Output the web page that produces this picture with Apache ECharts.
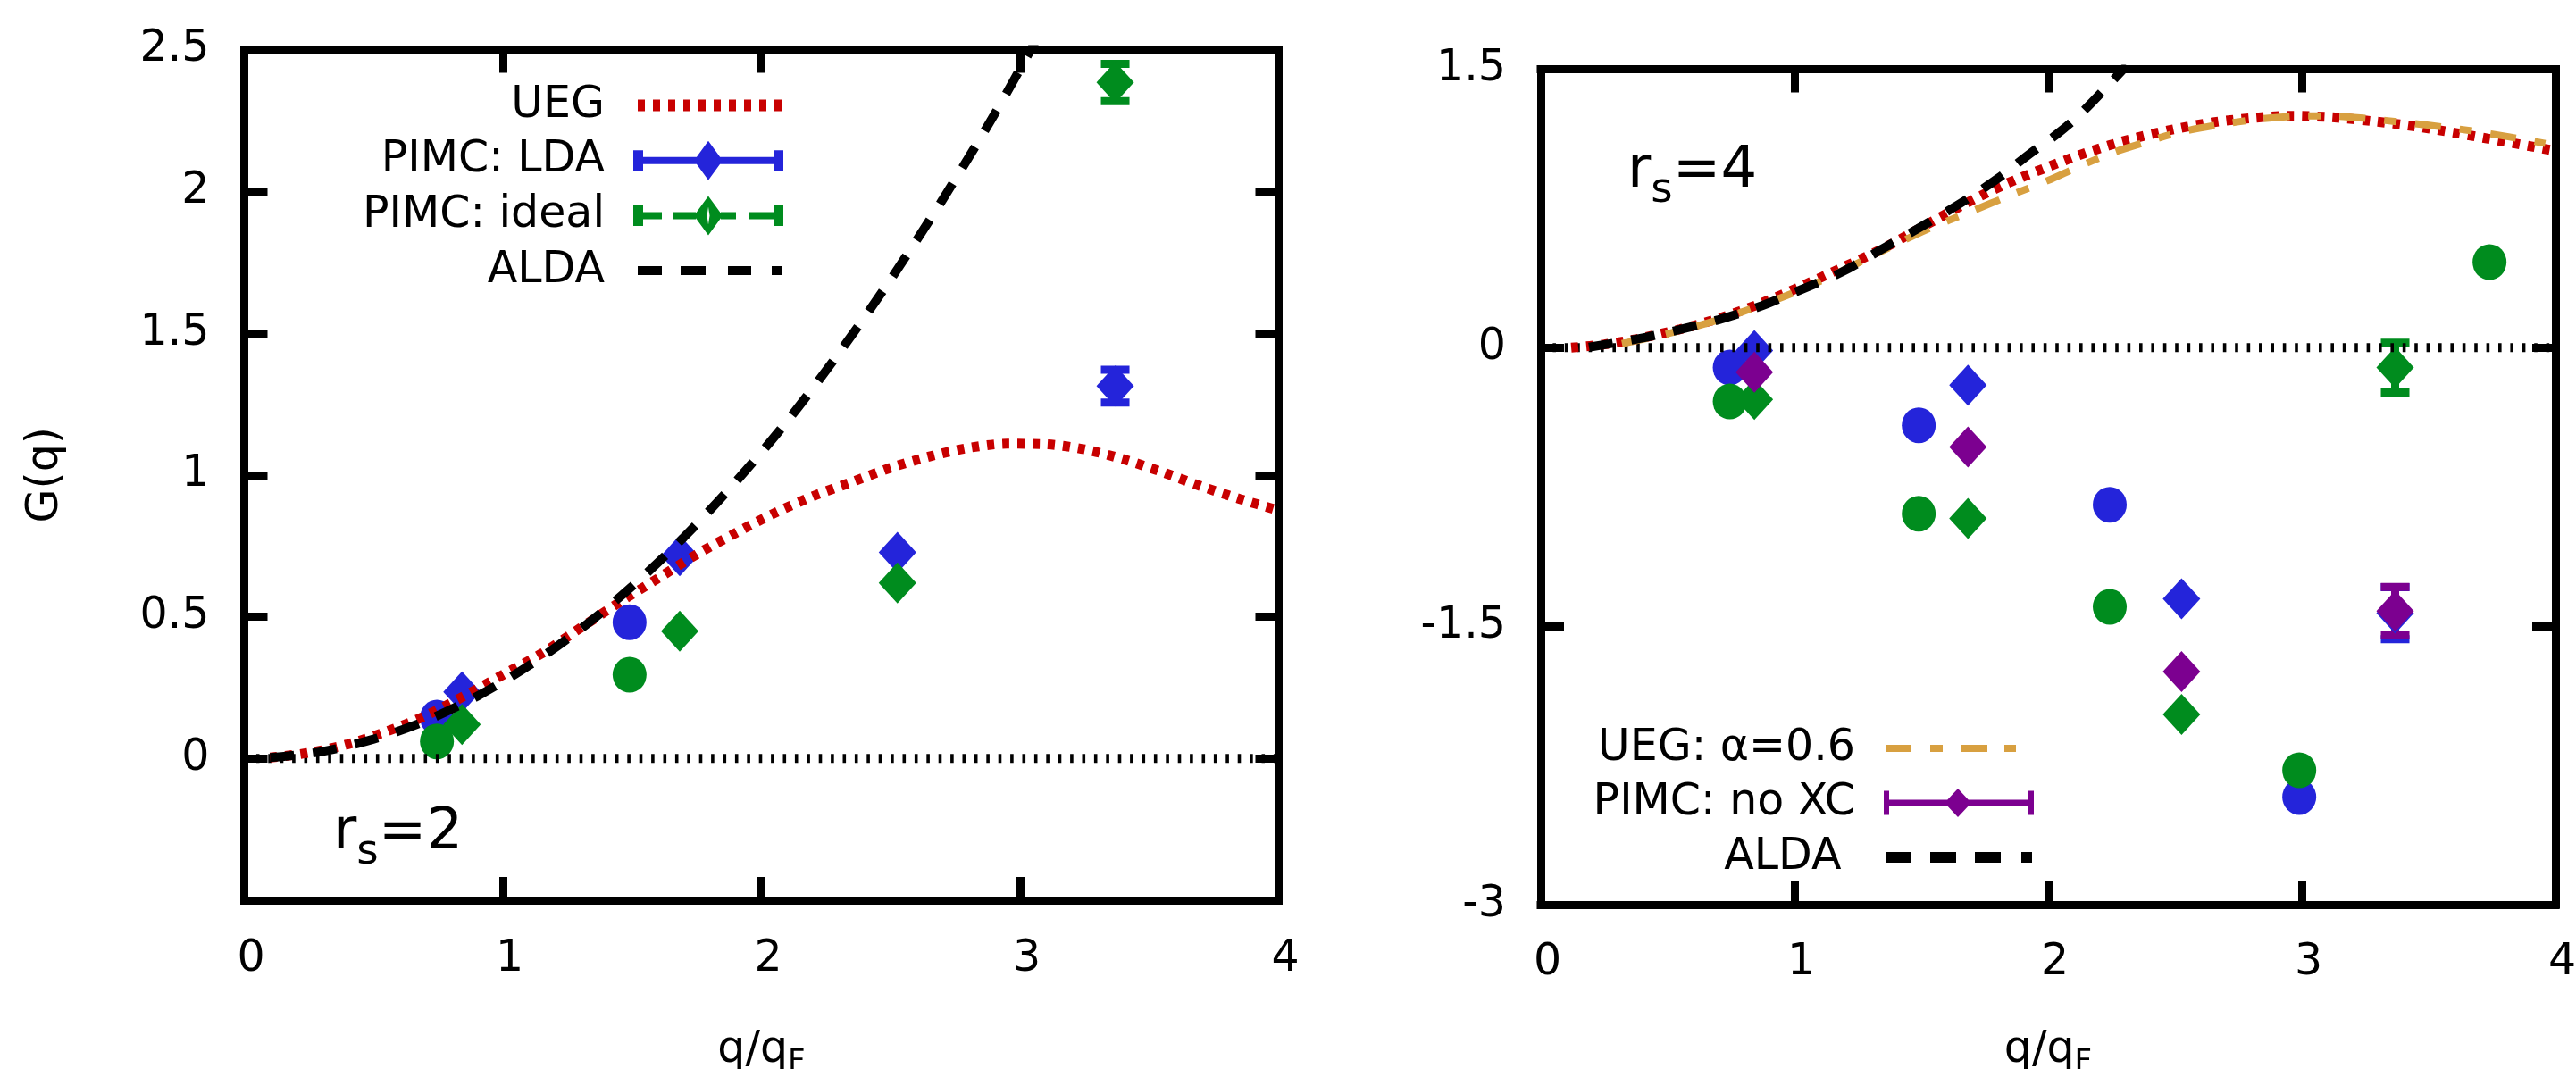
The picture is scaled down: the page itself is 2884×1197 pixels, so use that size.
<!DOCTYPE html>
<html>
<head>
<meta charset="utf-8">
<title>G(q)</title>
<script src="https://cdn.jsdelivr.net/npm/echarts@6.0.0/dist/echarts.min.js"></script>
<style>
html,body{margin:0;padding:0;background:#ffffff;}
#chart{width:2884px;height:1197px;}
</style>
</head>
<body>
<div id="chart"></div>
<script>
// ---------------- data ----------------
const xTickValues = [0, 1, 2, 3, 4];
const yTickValues2 = [0, 0.5, 1, 1.5, 2, 2.5];
const yTickValues4 = [-3, -1.5, 0, 1.5];
const zeroLine = [[0, 0], [4, 0]];

// left panel, r_s = 2
const ueg2 = [[0.1,0.003],[0.25,0.02],[0.4,0.05],[0.55,0.095],[0.7,0.15],[0.85,0.22],[1.0,0.295],[1.15,0.37],[1.3,0.46],[1.45,0.55],[1.6,0.635],[1.75,0.72],[1.9,0.795],[2.05,0.865],[2.2,0.925],[2.35,0.975],[2.5,1.025],[2.65,1.065],[2.8,1.095],[2.95,1.11],[3.1,1.108],[3.25,1.09],[3.4,1.055],[3.55,1.01],[3.7,0.96],[3.85,0.915],[4.0,0.875]];
const alda2 = [[0.1,0.003],[0.3,0.024],[0.5,0.068],[0.7,0.132],[0.9,0.219],[1.1,0.327],[1.3,0.456],[1.5,0.607],[1.7,0.78],[1.9,0.975],[2.1,1.19],[2.3,1.43],[2.5,1.69],[2.7,1.97],[2.9,2.27],[3.06,2.53]];
const ldaCirc2 = [[0.745,0.144],[1.49,0.48]];
const ldaDiam2 = [[0.842,0.235],[1.684,0.715],[2.526,0.727],[3.368,1.313]];
const ldaErr2 = [[3.368,1.313,0.058]];
const idealCirc2 = [[0.745,0.06],[1.49,0.295]];
const idealDiam2 = [[0.842,0.12],[1.684,0.449],[2.526,0.619],[3.368,2.384]];
const idealErr2 = [[3.368,2.384,0.066]];

// right panel, r_s = 4
const ueg4 = [[0.12,0.0],[0.25,0.018],[0.38,0.047],[0.55,0.1],[0.7,0.157],[0.87,0.24],[1.03,0.333],[1.19,0.432],[1.35,0.535],[1.51,0.655],[1.67,0.773],[1.83,0.88],[2.0,0.974],[2.16,1.055],[2.32,1.121],[2.48,1.172],[2.64,1.212],[2.8,1.237],[2.96,1.249],[3.12,1.241],[3.28,1.22],[3.44,1.193],[3.6,1.158],[3.8,1.11],[4.0,1.06]];
const uegA4 = [[0.32,0.022],[0.5,0.075],[0.7,0.15],[0.87,0.23],[1.03,0.315],[1.19,0.415],[1.35,0.524],[1.52,0.635],[1.7,0.736],[1.85,0.82],[2.0,0.901],[2.12,0.975],[2.25,1.048],[2.38,1.105],[2.51,1.158],[2.67,1.2],[2.83,1.231],[3.0,1.248],[3.09,1.249],[3.25,1.235],[3.41,1.212],[3.55,1.19],[3.67,1.168],[3.82,1.135],[3.96,1.1]];
const alda4 = [[0.19,0.003],[0.42,0.058],[0.7,0.15],[0.87,0.225],[1.03,0.315],[1.19,0.41],[1.35,0.535],[1.51,0.66],[1.67,0.791],[1.8,0.91],[1.93,1.047],[2.03,1.145],[2.12,1.249],[2.25,1.432],[2.31,1.52]];
const ldaCirc4 = [[0.745,-0.107],[1.49,-0.418],[2.243,-0.846],[2.99,-2.42]];
const ldaDiam4 = [[0.842,-0.015],[1.684,-0.202],[2.526,-1.352],[3.368,-1.43]];
const ldaErr4 = [[3.368,-1.43,0.14]];
const idealCirc4 = [[0.745,-0.29],[1.49,-0.894],[2.243,-1.396],[2.99,-2.276],[3.74,0.461]];
const idealDiam4 = [[0.842,-0.279],[1.684,-0.92],[2.526,-1.975],[3.368,-0.107]];
const idealErr4 = [[3.368,-0.107,0.134]];
const noxcDiam4 = [[0.842,-0.132],[1.684,-0.535],[2.526,-1.744],[3.368,-1.419]];
const noxcErr4 = [[3.368,-1.419,0.13]];

// ---------------- styling ----------------
const FONT = "'DejaVu Sans', sans-serif";
const COL = {red:'#c80000', blue:'#2424da', green:'#008c1e', purple:'#7c0090', orange:'#d8a040', black:'#000000'};

function rect(x0, x1, y0, y1) { return 'M' + x0 + ' ' + y0 + 'L' + x1 + ' ' + y0 + 'L' + x1 + ' ' + y1 + 'L' + x0 + ' ' + y1 + 'Z'; }
const CORNERS = 'M0 0L0.01 0L0 0.01Z M168 44L167.99 44L168 43.99Z ';
function dashIcon(segs, y0, y1) { return 'path://' + CORNERS + segs.map(s => rect(s[0], s[1], y0, y1)).join(' '); }

const iconUEG = dashIcon([[5,13],[22,30],[39,47],[56,64],[73,81],[90,98],[107,115],[124,132],[141,149],[158,166]], 15.5, 28.5);
const iconALDA = dashIcon([[5,32],[53,81],[106,132],[155,166]], 17, 27);
const iconLDA = 'path://' + CORNERS + rect(0,168,18,26) + rect(0,11,10.5,33.5) + rect(157,168,10.5,33.5) + 'M84 0L100 22L84 44L68 22Z';
const iconIdeal = 'path://' + CORNERS + rect(0,11,10.5,33.5) + rect(0,32,18,26) + rect(45,70,18,26) +
  'M84 0L100 22L84 44L68 22Z M84 12L82.5 22L84 32L85.5 22Z' + rect(98,115,18,26) + rect(130,168,18,26) + rect(157,168,10.5,33.5);
const iconUEGA = dashIcon([[2,31],[52,66],[87,116],[135,148]], 18, 26);
const iconNoXC = 'path://' + CORNERS + rect(0,168,18.5,25.5) + rect(0,6,8.5,35.5) + rect(162,168,8.5,35.5) + 'M83 6L98 22L83 38L68 22Z';
const iconALDA4 = dashIcon([[2,31],[52,81],[102,131],[154,166]], 16, 28);

function errorBar(params, api) {
  const x = api.value(0), y = api.value(1), e = api.value(2);
  const p1 = api.coord([x, y + e]);
  const p2 = api.coord([x, y - e]);
  const hw = 16;
  const st = {stroke: api.visual('color'), lineWidth: 9, fill: null};
  return {type: 'group', children: [
    {type: 'line', shape: {x1: p1[0], y1: p1[1], x2: p2[0], y2: p2[1]}, style: st},
    {type: 'line', shape: {x1: p1[0] - hw, y1: p1[1], x2: p1[0] + hw, y2: p1[1]}, style: st},
    {type: 'line', shape: {x1: p2[0] - hw, y1: p2[1], x2: p2[0] + hw, y2: p2[1]}, style: st}
  ]};
}

function lineS(name, data, xi, yi, color, width, dash, smooth) {
  return {type: 'line', name: name, data: data, xAxisIndex: xi, yAxisIndex: yi, showSymbol: false, symbol: 'none',
    smooth: smooth === undefined ? 0.3 : smooth, lineStyle: {color: color, width: width, type: dash}, itemStyle: {color: color}, silent: true};
}
function scatS(name, data, xi, yi, color, symbol, size) {
  return {type: 'scatter', name: name, data: data, xAxisIndex: xi, yAxisIndex: yi, symbol: symbol, symbolSize: size,
    itemStyle: {color: color, opacity: 1}, silent: true};
}
function errS(name, data, xi, yi, color) {
  return {type: 'custom', name: name, data: data, xAxisIndex: xi, yAxisIndex: yi, renderItem: errorBar,
    dimensions: ['x', 'y', 'err'], encode: {x: 0, y: 1}, itemStyle: {color: color}, silent: true};
}

const frameLine = {show: true, onZero: false, lineStyle: {color: '#000', width: 9, cap: 'square'}};
const tickIn = {show: true, inside: true, length: 26, lineStyle: {color: '#000', width: 9}};
const labelBase = {fontSize: 49, fontFamily: FONT, color: '#000'};

function xAxesFor(grid, nameGap, margin) {
  return [
    {type: 'value', gridIndex: grid, position: 'bottom', min: 0, max: 4, interval: 1,
      axisLine: frameLine, axisTick: tickIn, splitLine: {show: false},
      axisLabel: Object.assign({margin: margin, padding: [0, 0, 0, 15], showMinLabel: true, showMaxLabel: true,
        formatter: v => xTickValues.includes(v) ? String(v) : ''}, labelBase),
      name: '{a|q/q}{b|F}', nameLocation: 'middle', nameGap: nameGap,
      nameTextStyle: {rich: {
        a: {fontSize: 49, fontFamily: FONT, color: '#000', lineHeight: 61, verticalAlign: 'middle'},
        b: {fontSize: 34, fontFamily: FONT, color: '#000', lineHeight: 20, verticalAlign: 'bottom'}}}},
    {type: 'value', gridIndex: grid, position: 'top', min: 0, max: 4, interval: 1,
      axisLine: frameLine, axisTick: tickIn, splitLine: {show: false}, axisLabel: {show: false}}
  ];
}
function yAxesFor(grid, min, max, interval, ticks, withName) {
  const left = {type: 'value', gridIndex: grid, position: 'left', min: min, max: max, interval: interval,
    axisLine: frameLine, axisTick: tickIn, splitLine: {show: false},
    axisLabel: Object.assign({margin: 39, showMinLabel: true, showMaxLabel: true,
      formatter: v => ticks.includes(v) ? String(v) : ''}, labelBase)};
  if (withName) {
    left.name = 'G(q)';
    left.nameLocation = 'middle';
    left.nameGap = 197;
    left.nameTextStyle = {fontSize: 49, fontFamily: FONT, color: '#000', lineHeight: 50};
  }
  return [left,
    {type: 'value', gridIndex: grid, position: 'right', min: min, max: max, interval: interval,
      axisLine: frameLine, axisTick: tickIn, splitLine: {show: false}, axisLabel: {show: false}}];
}

const legendBase = {orient: 'vertical', align: 'right', padding: 0, itemWidth: 168, itemHeight: 44,
  selectedMode: false, itemStyle: {borderWidth: 0},
  textStyle: {fontSize: 49, fontFamily: FONT, color: '#000', lineHeight: 50, padding: [0, 27, 0, 0]}};
function oneLegend(name, icon, right, centerY) {
  return Object.assign({}, legendBase, {right: right, top: centerY - 25 + 6, data: [{name: name, icon: icon}]});
}

const rsRich = {
  a: {fontSize: 64, fontFamily: FONT, fill: '#000', lineHeight: 91, verticalAlign: 'middle'},
  b: {fontSize: 47, fontFamily: FONT, fill: '#000', lineHeight: 26, verticalAlign: 'bottom'}
};

const option = {
  animation: false,
  backgroundColor: '#ffffff',
  grid: [
    {left: 273.5, top: 55.5, width: 1158, height: 952.5, containLabel: false, outerBoundsMode: 'none'},
    {left: 1725, top: 77.5, width: 1136, height: 935.5, containLabel: false, outerBoundsMode: 'none'}
  ],
  xAxis: xAxesFor(0, 138, 42).concat(xAxesFor(1, 133, 41)),
  yAxis: yAxesFor(0, -0.5, 2.5, 0.5, yTickValues2, true).concat(yAxesFor(1, -3, 1.5, 1.5, yTickValues4, false)),
  legend: [
    oneLegend('UEG', iconUEG, 2007, 112),
    oneLegend('PIMC: LDA', iconLDA, 2007, 173.7),
    oneLegend('PIMC: ideal', iconIdeal, 2007, 235.4),
    oneLegend('ALDA', iconALDA, 2007, 297),
    oneLegend('UEG: α=0.6', iconUEGA, 607, 832),
    oneLegend('PIMC: no XC', iconNoXC, 607, 893),
    oneLegend('ALDA ', iconALDA4, 607, 954)
  ],
  graphic: [
    {type: 'text', left: 373, top: 901, silent: true, style: {text: '{a|r}{b|s}{a|=2}', rich: rsRich, fill: '#000'}},
    {type: 'text', left: 1822, top: 160, silent: true, style: {text: '{a|r}{b|s}{a|=4}', rich: rsRich, fill: '#000'}}
  ],
  series: [
    // left
    lineS('zero2', zeroLine, 0, 0, COL.black, 10, [3.6, 9.8], false),
    lineS('UEG', ueg2, 0, 0, COL.red, 11, [8, 9]),
    errS('LDA err 2', ldaErr2, 0, 0, COL.blue),
    scatS('LDA circ 2', ldaCirc2, 0, 0, COL.blue, 'circle', [38, 40]),
    scatS('PIMC: LDA', ldaDiam2, 0, 0, COL.blue, 'diamond', [42, 46]),
    errS('ideal err 2', idealErr2, 0, 0, COL.green),
    scatS('ideal circ 2', idealCirc2, 0, 0, COL.green, 'circle', [38, 40]),
    scatS('PIMC: ideal', idealDiam2, 0, 0, COL.green, 'diamond', [42, 46]),
    lineS('ALDA', alda2, 0, 0, COL.black, 10, [27, 21]),
    // right
    lineS('zero4', zeroLine, 2, 2, COL.black, 10, [3.6, 9.8], false),
    lineS('UEG 4', ueg4, 2, 2, COL.red, 11, [8, 9]),
    errS('LDA err 4', ldaErr4, 2, 2, COL.blue),
    scatS('LDA circ 4', ldaCirc4, 2, 2, COL.blue, 'circle', [38, 40]),
    scatS('LDA diam 4', ldaDiam4, 2, 2, COL.blue, 'diamond', [42, 46]),
    errS('ideal err 4', idealErr4, 2, 2, COL.green),
    scatS('ideal circ 4', idealCirc4, 2, 2, COL.green, 'circle', [38, 40]),
    scatS('ideal diam 4', idealDiam4, 2, 2, COL.green, 'diamond', [42, 46]),
    lineS('UEG: α=0.6', uegA4, 2, 2, COL.orange, 8, [29, 21, 14, 21]),
    errS('noxc err 4', noxcErr4, 2, 2, COL.purple),
    scatS('PIMC: no XC', noxcDiam4, 2, 2, COL.purple, 'diamond', [42, 46]),
    lineS('ALDA ', alda4, 2, 2, COL.black, 10, [27, 21])
  ]
};

const chart = echarts.init(document.getElementById('chart'), null, {renderer: 'canvas'});
chart.setOption(option);
</script>
</body>
</html>
